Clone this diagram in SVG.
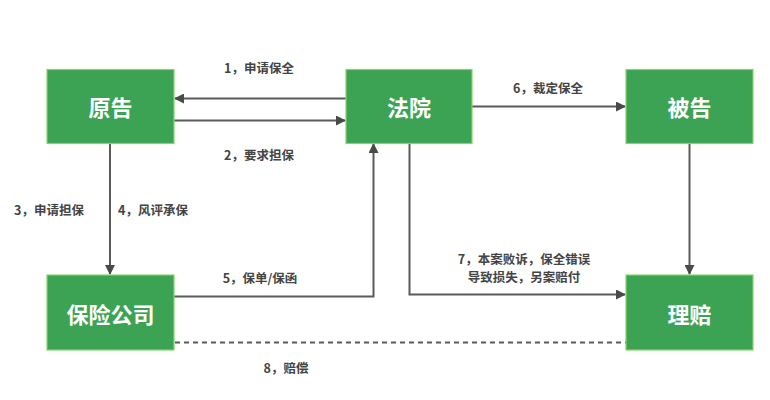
<svg xmlns="http://www.w3.org/2000/svg" width="770" height="400" viewBox="0 0 770 400">
<defs>
<marker id="arr" markerWidth="10" markerHeight="10" refX="9" refY="5" orient="auto" markerUnits="userSpaceOnUse">
<path d="M0,0 L10,5 L0,10 Z" fill="#4a4a4a"/>
</marker>
<style>
.node rect{fill:#3ca355;stroke:#86d46c;stroke-width:1.2}
.node text{fill:#fff;font-family:"Noto Sans CJK SC","Noto Sans",sans-serif;font-weight:bold;font-size:22px;text-anchor:middle;dominant-baseline:central}
.edge{fill:none;stroke:#5a5a5a;stroke-width:2}
.lbl{fill:#444;font-family:"Noto Sans CJK SC","Noto Sans",sans-serif;font-weight:bold;font-size:12.5px;text-anchor:middle;dominant-baseline:central}
</style>
</defs>
<rect width="770" height="400" fill="#fff"/>
<g id="connectors">
<line class="edge" x1="346" y1="98.5" x2="175" y2="98.5" marker-end="url(#arr)"/>
<line class="edge" x1="174" y1="120.5" x2="345" y2="120.5" marker-end="url(#arr)"/>
<line class="edge" x1="472" y1="106.5" x2="625" y2="106.5" marker-end="url(#arr)"/>
<line class="edge" x1="110" y1="143" x2="110" y2="274" marker-end="url(#arr)"/>
<polyline class="edge" points="174,296.5 373.5,296.5 373.5,144" marker-end="url(#arr)"/>
<polyline class="edge" points="409.5,143 409.5,294.5 625,294.5" marker-end="url(#arr)"/>
<line class="edge" x1="689.5" y1="143" x2="689.5" y2="274" marker-end="url(#arr)"/>
<line class="edge" x1="175" y1="342.5" x2="626" y2="342.5" stroke-dasharray="5,4"/>
<text class="lbl" x="259" y="67">1，申请保全</text>
<text class="lbl" x="259" y="154">2，要求担保</text>
<text class="lbl" x="548" y="87">6，裁定保全</text>
<text class="lbl" x="49" y="209">3，申请担保</text>
<text class="lbl" x="153" y="209">4，风评承保</text>
<text class="lbl" x="260" y="277">5，保单/保函</text>
<text class="lbl" x="524" y="258">7，本案败诉，保全错误</text>
<text class="lbl" x="524" y="276">导致损失，另案赔付</text>
<text class="lbl" x="286" y="367">8，赔偿</text>
</g>
<g id="n-yuangao" class="node"><rect x="47" y="69.5" width="127" height="74"/><text x="110.5" y="106">原告</text></g>
<g id="n-fayuan" class="node"><rect x="346" y="69.5" width="126" height="74"/><text x="409" y="106">法院</text></g>
<g id="n-beigao" class="node"><rect x="626" y="69.5" width="127" height="74"/><text x="689.5" y="106">被告</text></g>
<g id="n-baoxian" class="node"><rect x="47" y="275" width="127" height="75"/><text x="110.5" y="312.5">保险公司</text></g>
<g id="n-lipei" class="node"><rect x="626" y="275" width="127" height="75"/><text x="689.5" y="312.5">理赔</text></g>
</svg>
